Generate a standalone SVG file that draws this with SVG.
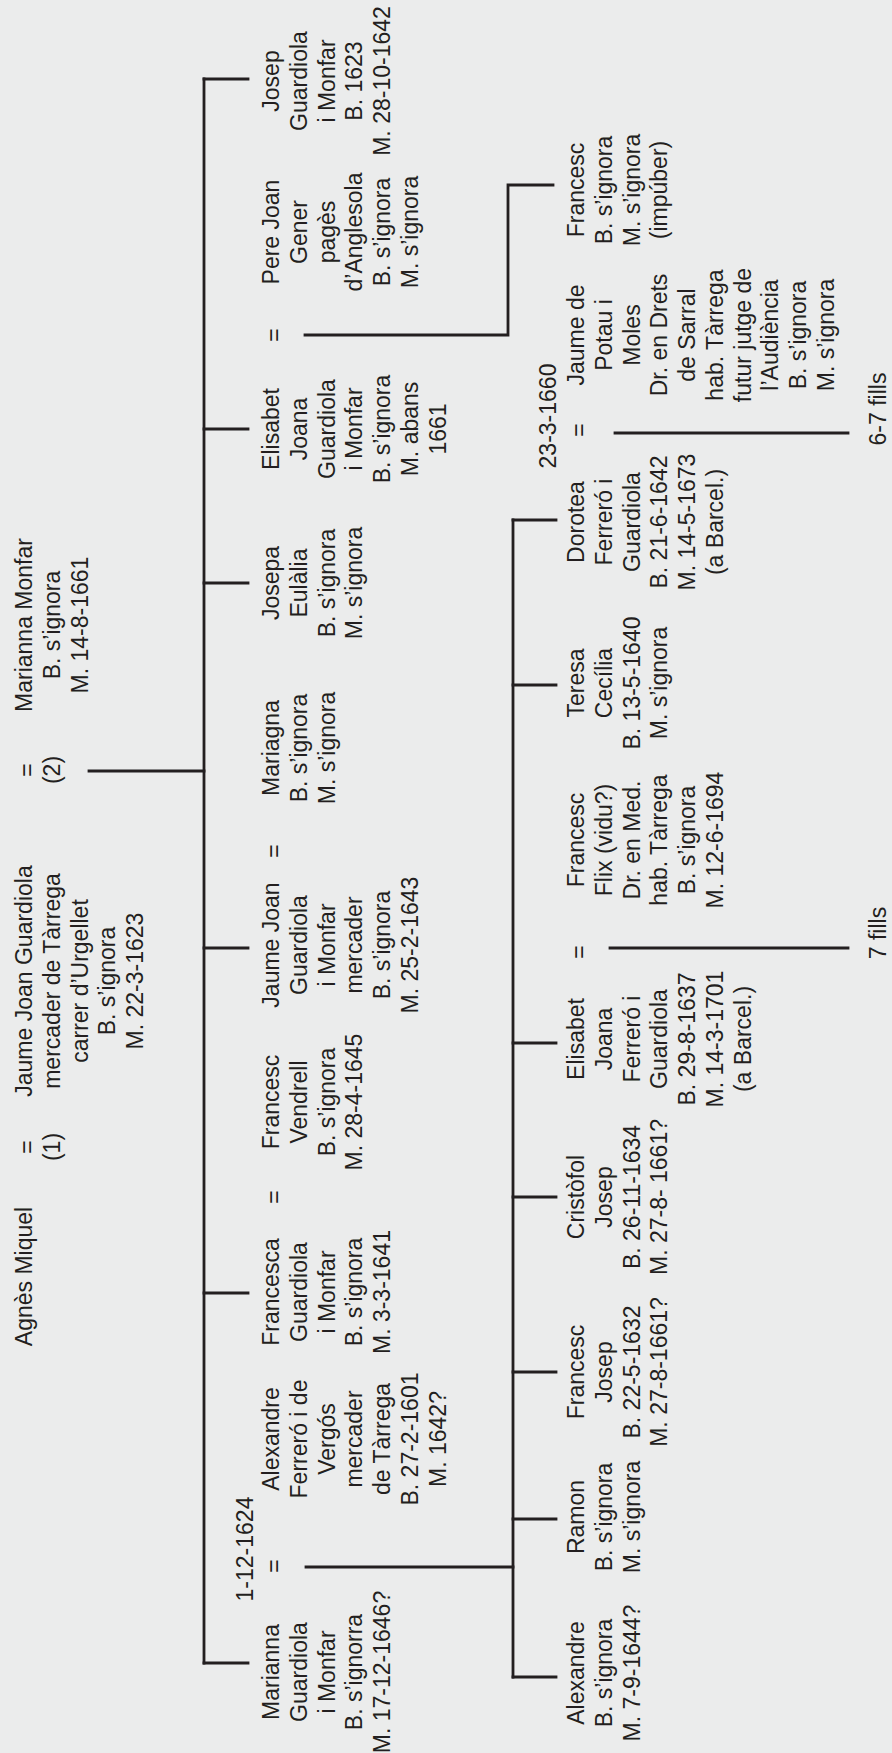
<svg xmlns="http://www.w3.org/2000/svg" width="892" height="1753" viewBox="0 0 892 1753">
<style>
.t{font-family:"Liberation Sans",Arial,Helvetica,sans-serif;font-size:23px;fill:#231f20;text-anchor:middle}
.ln{stroke:#231f20;stroke-width:2.8;fill:none;stroke-linecap:square;stroke-linejoin:miter}
</style>
<rect x="0" y="0" width="892" height="1753" fill="#ebecec"/>
<g transform="translate(0,1753) rotate(-90)">
<g id="connectors">
<line class="ln" x1="90" y1="204" x2="1674" y2="204"/>
<line class="ln" x1="1674" y1="204" x2="1674" y2="248"/>
<line class="ln" x1="1324" y1="204" x2="1324" y2="248"/>
<line class="ln" x1="1170" y1="204" x2="1170" y2="248"/>
<line class="ln" x1="805" y1="204" x2="805" y2="248"/>
<line class="ln" x1="460" y1="204" x2="460" y2="248"/>
<line class="ln" x1="90" y1="204" x2="90" y2="248"/>
<line class="ln" x1="982" y1="89" x2="982" y2="204"/>
<line class="ln" x1="76" y1="513" x2="1233" y2="513"/>
<line class="ln" x1="1233" y1="513" x2="1233" y2="556"/>
<line class="ln" x1="1068" y1="513" x2="1068" y2="556"/>
<line class="ln" x1="710" y1="513" x2="710" y2="556"/>
<line class="ln" x1="556" y1="513" x2="556" y2="556"/>
<line class="ln" x1="381" y1="513" x2="381" y2="556"/>
<line class="ln" x1="234" y1="513" x2="234" y2="556"/>
<line class="ln" x1="76" y1="513" x2="76" y2="556"/>
<line class="ln" x1="186" y1="306" x2="186" y2="513"/>
<polyline class="ln" points="1418,305 1418,508 1568,508 1568,553"/>
<line class="ln" x1="1320" y1="615" x2="1320" y2="848"/>
<line class="ln" x1="805" y1="610" x2="805" y2="848"/>
</g>
<g id="agnes"><text class="t" x="476.5" y="32">Agnès Miquel</text></g>
<g id="marriage1"><text class="t" x="606" y="34.5">=</text><text class="t" x="606" y="60">(1)</text></g>
<g id="jaume-joan-pare"><text class="t" x="772" y="32"><tspan x="772">Jaume Joan Guardiola</tspan><tspan x="772" dy="27.75">mercader de Tàrrega</tspan><tspan x="772" dy="27.75">carrer d’Urgellet</tspan><tspan x="772" dy="27.75">B. s’ignora</tspan><tspan x="772" dy="27.75">M. 22-3-1623</tspan></text></g>
<g id="marriage2"><text class="t" x="983" y="34.5">=</text><text class="t" x="983" y="60">(2)</text></g>
<g id="marianna-monfar"><text class="t" x="1128" y="32"><tspan x="1128">Marianna Monfar</tspan><tspan x="1128" dy="27.75">B. s’ignora</tspan><tspan x="1128" dy="27.75">M. 14-8-1661</tspan></text></g>

<g id="marianna-guardiola"><text class="t" x="81" y="279"><tspan x="81">Marianna</tspan><tspan x="81" dy="27.75">Guardiola</tspan><tspan x="81" dy="27.75">i Monfar</tspan><tspan x="81" dy="27.75">B. s’ignorra</tspan><tspan x="81" dy="27.75">M. 17-12-1646?</tspan></text></g>
<g id="eq-marianna"><text class="t" x="187" y="282">=</text><text class="t" x="204" y="253">1-12-1624</text></g>
<g id="alexandre-ferrero"><text class="t" x="314" y="279"><tspan x="314">Alexandre</tspan><tspan x="314" dy="27.75">Ferreró i de</tspan><tspan x="314" dy="27.75">Vergós</tspan><tspan x="314" dy="27.75">mercader</tspan><tspan x="314" dy="27.75">de Tàrrega</tspan><tspan x="314" dy="27.75">B. 27-2-1601</tspan><tspan x="314" dy="27.75">M. 1642?</tspan></text></g>
<g id="francesca"><text class="t" x="461" y="279"><tspan x="461">Francesca</tspan><tspan x="461" dy="27.75">Guardiola</tspan><tspan x="461" dy="27.75">i Monfar</tspan><tspan x="461" dy="27.75">B. s’ignora</tspan><tspan x="461" dy="27.75">M. 3-3-1641</tspan></text></g>
<g id="eq-francesca"><text class="t" x="556" y="282">=</text></g>
<g id="francesc-vendrell"><text class="t" x="651" y="279"><tspan x="651">Francesc</tspan><tspan x="651" dy="27.75">Vendrell</tspan><tspan x="651" dy="27.75">B. s’ignora</tspan><tspan x="651" dy="27.75">M. 28-4-1645</tspan></text></g>
<g id="jaume-joan-fill"><text class="t" x="808" y="279"><tspan x="808">Jaume Joan</tspan><tspan x="808" dy="27.75">Guardiola</tspan><tspan x="808" dy="27.75">i Monfar</tspan><tspan x="808" dy="27.75">mercader</tspan><tspan x="808" dy="27.75">B. s’ignora</tspan><tspan x="808" dy="27.75">M. 25-2-1643</tspan></text></g>
<g id="eq-jaume-joan"><text class="t" x="902" y="282">=</text></g>
<g id="mariagna"><text class="t" x="1005" y="279"><tspan x="1005">Mariagna</tspan><tspan x="1005" dy="27.75">B. s’ignora</tspan><tspan x="1005" dy="27.75">M. s’ignora</tspan></text></g>
<g id="josepa"><text class="t" x="1170" y="279"><tspan x="1170">Josepa</tspan><tspan x="1170" dy="27.75">Eulàlia</tspan><tspan x="1170" dy="27.75">B. s’ignora</tspan><tspan x="1170" dy="27.75">M. s’ignora</tspan></text></g>
<g id="elisabet-joana-guardiola"><text class="t" x="1324" y="279"><tspan x="1324">Elisabet</tspan><tspan x="1324" dy="27.75">Joana</tspan><tspan x="1324" dy="27.75">Guardiola</tspan><tspan x="1324" dy="27.75">i Monfar</tspan><tspan x="1324" dy="27.75">B. s’ignora</tspan><tspan x="1324" dy="27.75">M. abans</tspan><tspan x="1324" dy="27.75">1661</tspan></text></g>
<g id="eq-elisabet"><text class="t" x="1418" y="282">=</text></g>
<g id="pere-joan-gener"><text class="t" x="1521" y="279"><tspan x="1521">Pere Joan</tspan><tspan x="1521" dy="27.75">Gener</tspan><tspan x="1521" dy="27.75">pagès</tspan><tspan x="1521" dy="27.75">d’Anglesola</tspan><tspan x="1521" dy="27.75">B. s’ignora</tspan><tspan x="1521" dy="27.75">M. s’ignora</tspan></text></g>
<g id="josep-guardiola"><text class="t" x="1672" y="279"><tspan x="1672">Josep</tspan><tspan x="1672" dy="27.75">Guardiola</tspan><tspan x="1672" dy="27.75">i Monfar</tspan><tspan x="1672" dy="27.75">B. 1623</tspan><tspan x="1672" dy="27.75">M. 28-10-1642</tspan></text></g>

<g id="alexandre-fill"><text class="t" x="80" y="584"><tspan x="80">Alexandre</tspan><tspan x="80" dy="27.75">B. s’ignora</tspan><tspan x="80" dy="27.75">M. 7-9-1644?</tspan></text></g>
<g id="ramon"><text class="t" x="236" y="584"><tspan x="236">Ramon</tspan><tspan x="236" dy="27.75">B. s’ignora</tspan><tspan x="236" dy="27.75">M. s’ignora</tspan></text></g>
<g id="francesc-josep"><text class="t" x="381" y="584"><tspan x="381">Francesc</tspan><tspan x="381" dy="27.75">Josep</tspan><tspan x="381" dy="27.75">B. 22-5-1632</tspan><tspan x="381" dy="27.75">M. 27-8-1661?</tspan></text></g>
<g id="cristofol"><text class="t" x="556" y="584"><tspan x="556">Cristòfol</tspan><tspan x="556" dy="27.75">Josep</tspan><tspan x="556" dy="27.75">B. 26-11-1634</tspan><tspan x="556" dy="27.75">M. 27-8- 1661?</tspan></text></g>
<g id="elisabet-joana-ferrero"><text class="t" x="714" y="584"><tspan x="714">Elisabet</tspan><tspan x="714" dy="27.75">Joana</tspan><tspan x="714" dy="27.75">Ferreró i</tspan><tspan x="714" dy="27.75">Guardiola</tspan><tspan x="714" dy="27.75">B. 29-8-1637</tspan><tspan x="714" dy="27.75">M. 14-3-1701</tspan><tspan x="714" dy="27.75">(a Barcel.)</tspan></text></g>
<g id="eq-elisabet-flix"><text class="t" x="801" y="587">=</text><text class="t" x="820" y="886">7 fills</text></g>
<g id="francesc-flix"><text class="t" x="913" y="584"><tspan x="913">Francesc</tspan><tspan x="913" dy="27.75">Flix (vidu?)</tspan><tspan x="913" dy="27.75">Dr. en Med.</tspan><tspan x="913" dy="27.75">hab. Tàrrega</tspan><tspan x="913" dy="27.75">B. s’ignora</tspan><tspan x="913" dy="27.75">M. 12-6-1694</tspan></text></g>
<g id="teresa"><text class="t" x="1070" y="584"><tspan x="1070">Teresa</tspan><tspan x="1070" dy="27.75">Cecília</tspan><tspan x="1070" dy="27.75">B. 13-5-1640</tspan><tspan x="1070" dy="27.75">M. s’ignora</tspan></text></g>
<g id="dorotea"><text class="t" x="1231" y="584"><tspan x="1231">Dorotea</tspan><tspan x="1231" dy="27.75">Ferreró i</tspan><tspan x="1231" dy="27.75">Guardiola</tspan><tspan x="1231" dy="27.75">B. 21-6-1642</tspan><tspan x="1231" dy="27.75">M. 14-5-1673</tspan><tspan x="1231" dy="27.75">(a Barcel.)</tspan></text></g>
<g id="eq-dorotea"><text class="t" x="1323" y="587">=</text><text class="t" x="1337" y="556">23-3-1660</text><text class="t" x="1344" y="886">6-7 fills</text></g>
<g id="jaume-de-potau"><text class="t" x="1418" y="584"><tspan x="1418">Jaume de</tspan><tspan x="1418" dy="27.75">Potau i</tspan><tspan x="1418" dy="27.75">Moles</tspan><tspan x="1418" dy="27.75">Dr. en Drets</tspan><tspan x="1418" dy="27.75">de Sarral</tspan><tspan x="1418" dy="27.75">hab. Tàrrega</tspan><tspan x="1418" dy="27.75">futur jutge de</tspan><tspan x="1418" dy="27.75">l’Audiència</tspan><tspan x="1418" dy="27.75">B. s’ignora</tspan><tspan x="1418" dy="27.75">M. s’ignora</tspan></text></g>
<g id="francesc-impuber"><text class="t" x="1563" y="584"><tspan x="1563">Francesc</tspan><tspan x="1563" dy="27.75">B. s’ignora</tspan><tspan x="1563" dy="27.75">M. s’ignora</tspan><tspan x="1563" dy="27.75">(impúber)</tspan></text></g>
</g>
</svg>
